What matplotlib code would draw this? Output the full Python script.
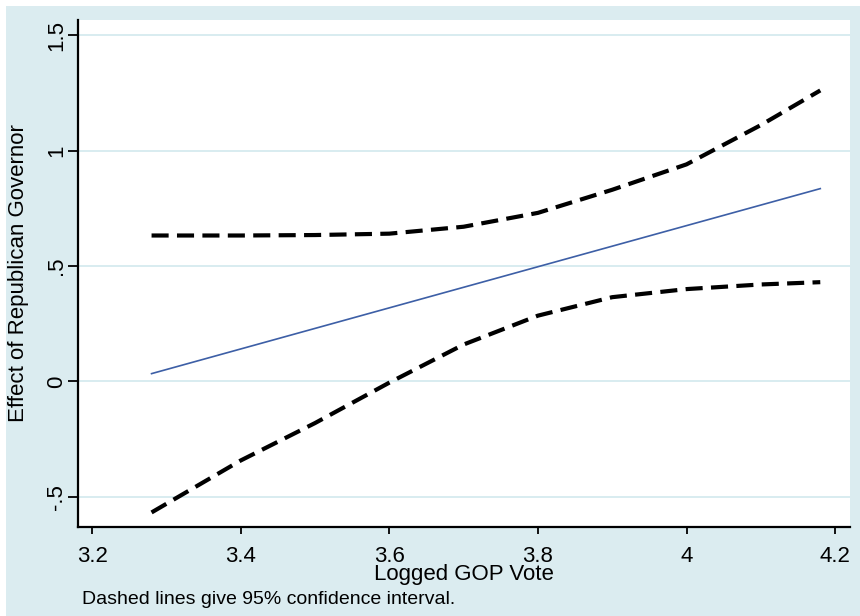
import matplotlib
matplotlib.use("Agg")
import matplotlib.pyplot as plt
from matplotlib.patches import Rectangle

# Data
x_vals = [3.28, 3.40, 3.50, 3.60, 3.70, 3.80, 3.90, 4.00, 4.10, 4.18]
upper_ci = [0.632, 0.632, 0.634, 0.640, 0.670, 0.730, 0.830, 0.940, 1.110, 1.260]
lower_ci = [-0.567, -0.342, -0.180, -0.005, 0.160, 0.285, 0.365, 0.400, 0.420, 0.430]
effect_x = [3.28, 4.18]
effect_y = [0.034, 0.835]

x_ticks = [3.2, 3.4, 3.6, 3.8, 4.0, 4.2]
x_tick_labels = ["3.2", "3.4", "3.6", "3.8", "4", "4.2"]
y_ticks = [-0.5, 0.0, 0.5, 1.0, 1.5]
y_tick_labels = ["-.5", "0", ".5", "1", "1.5"]

plt.rcParams['font.family'] = ['Liberation Sans', 'DejaVu Sans']

BG = '#dbecf0'
GRID = '#d6eaef'

fig = plt.figure(figsize=(8.6, 6.16), dpi=100)
fig.patch.set_facecolor('white')
fig.patches.append(Rectangle((6/860, 0), 1 - 6/860, 1 - 6/616,
                             transform=fig.transFigure, facecolor=BG,
                             edgecolor='none', zorder=-10))

ax = fig.add_axes([78/860, 1 - 527/616, (850 - 78)/860, (527 - 20)/616])
ax.set_facecolor('white')

ax.set_xlim(3.181, 4.220)
ax.set_ylim(-0.630, 1.565)

for yv in y_ticks:
    ax.axhline(yv, color=GRID, lw=1.3, zorder=0)

ax.plot(x_vals, upper_ci, color='black', lw=3.0, ls=(0, (4.1, 2.0)), zorder=3)
ax.plot(x_vals, lower_ci, color='black', lw=3.0, ls=(0, (4.1, 2.0)), zorder=3)
ax.plot(effect_x, effect_y, color='#3d5fa6', lw=1.2, zorder=4)

ax.set_xticks(x_ticks)
ax.set_xticklabels(x_tick_labels, fontsize=16)
ax.set_yticks(y_ticks)
ax.set_yticklabels(y_tick_labels, fontsize=16, rotation=90, va='center')

ax.tick_params(axis='x', length=5, width=1.3, pad=8.5, colors='black')
ax.tick_params(axis='y', length=7, width=1.3, pad=1, colors='black')

for s in ['top', 'right']:
    ax.spines[s].set_visible(False)
for s in ['left', 'bottom']:
    ax.spines[s].set_linewidth(1.6)
    ax.spines[s].set_color('black')

ax.set_xlabel("Logged GOP Vote", fontsize=16)
ax.xaxis.set_label_coords(0.5, -0.072)
ax.xaxis.label.set_va('top')
ax.set_ylabel("Effect of Republican Governor", fontsize=16)
ax.yaxis.set_label_coords(-0.0635, 0.5)

fig.text(82/860, 1 - 600/616, "Dashed lines give 95% confidence interval.",
         fontsize=14, ha='left', va='center')

fig.savefig("out.png", dpi=100, facecolor=fig.get_facecolor())
